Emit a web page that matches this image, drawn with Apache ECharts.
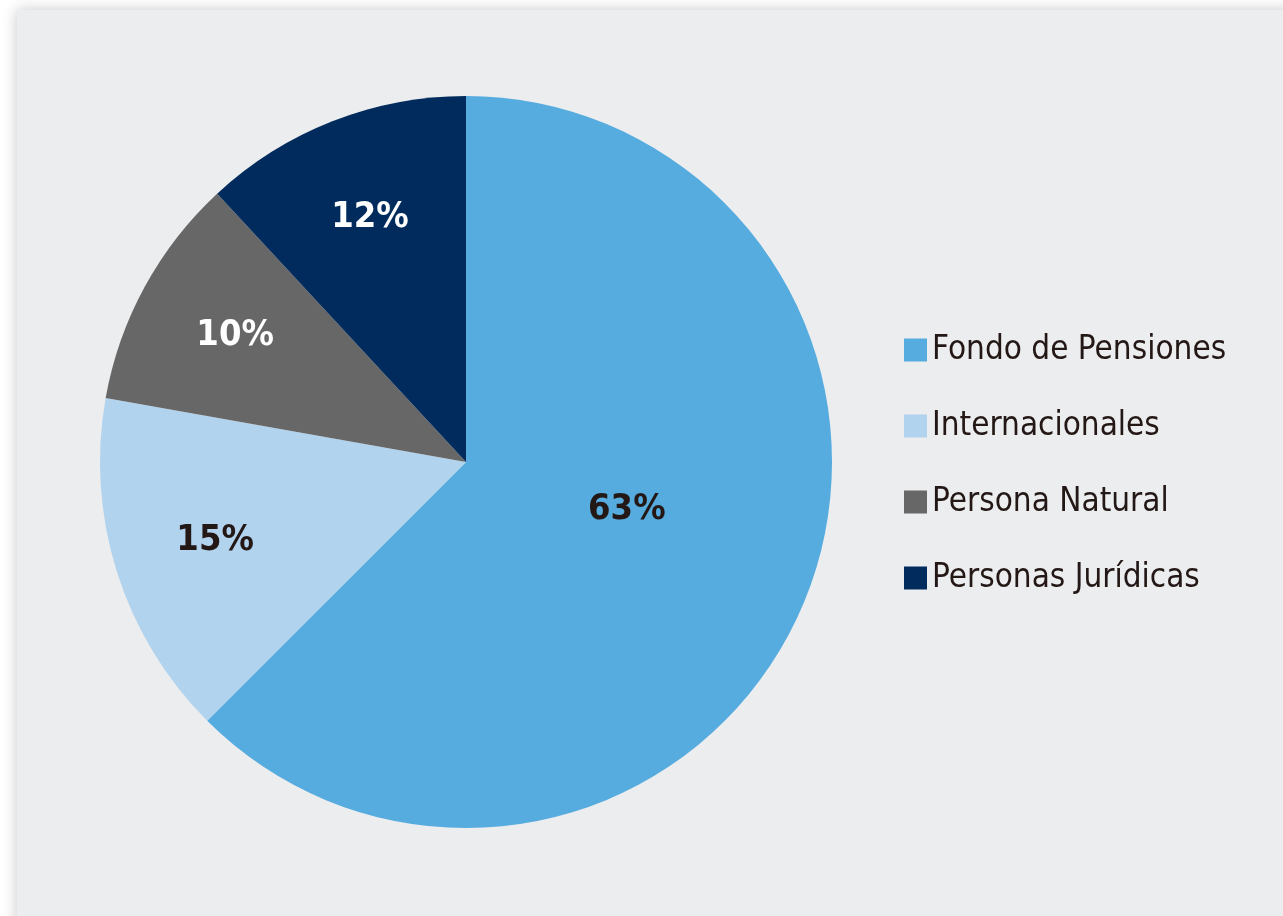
<!DOCTYPE html>
<html>
<head>
<meta charset="utf-8">
<script src="https://cdn.jsdelivr.net/npm/echarts@6/dist/echarts.min.js"></script>
<style>
html,body{margin:0;padding:0;background:#ffffff;}
#chart{width:1283px;height:916px;}
</style>
</head>
<body>
<div id="chart"></div>
<script>
const categories = ['Fondo de Pensiones', 'Internacionales', 'Persona Natural', 'Personas Jurídicas'];
const shares = [62.5, 15.3, 10.3, 11.9];
const colors = ['#56abdf', '#b1d3ee', '#676767', '#002b5c'];
const labelColors = ['#231815', '#231815', '#ffffff', '#ffffff'];

const FONT = '"Liberation Sans Narrow", "DejaVu Sans Condensed", "Roboto", sans-serif';
const chart = echarts.init(document.getElementById('chart'), null, {renderer: 'canvas'});

const pieData = categories.map((c, i) => ({
  name: c,
  value: shares[i],
  itemStyle: {color: colors[i]},
  label: {color: labelColors[i]}
}));

const labelData = categories.map((c, i) => ({
  name: c,
  value: shares[i],
  label: {show: true, color: labelColors[i]}
}));

chart.setOption({
  backgroundColor: '#ffffff',
  animation: false,
  graphic: [{
    type: 'rect',
    left: 17, top: 10,
    shape: {width: 1320, height: 960},
    style: {fill: '#ecedef', shadowBlur: 14, shadowColor: 'rgba(0,0,0,0.22)'},
    z: -10
  }],
  legend: {
    orient: 'vertical',
    left: 899,
    top: 325,
    icon: 'rect',
    itemWidth: 23,
    itemHeight: 23,
    itemGap: 36,
    selectedMode: false,
    data: categories,
    textStyle: {
      fontFamily: FONT,
      fontSize: 33,
      lineHeight: 40,
      color: '#231815'
    }
  },
  series: [
    {
      type: 'pie',
      center: [466, 462],
      radius: [0, 366],
      startAngle: 90,
      clockwise: true,
      silent: true,
      emphasis: {disabled: true},
      itemStyle: {borderWidth: 0},
      label: {
        show: true,
        position: 'inside',
        fontFamily: FONT,
        fontWeight: 'bold',
        fontSize: 36,
        formatter: p => p.dataIndex === 0 ? Math.round(p.percent) + '%' : ''
      },
      labelLayout: p => p.dataIndex === 0 ? {dx: -11, dy: -24} : {},
      labelLine: {show: false},
      data: pieData
    },
    {
      type: 'pie',
      center: [466, 462],
      radius: [154, 366],
      startAngle: 90,
      clockwise: true,
      silent: true,
      emphasis: {disabled: true},
      itemStyle: {color: 'rgba(0,0,0,0)', borderWidth: 0},
      label: {
        show: true,
        position: 'inside',
        fontFamily: FONT,
        fontWeight: 'bold',
        fontSize: 36,
        formatter: p => p.dataIndex === 0 ? '' : Math.round(p.percent) + '%'
      },
      labelLine: {show: false},
      legendHoverLink: false,
      data: labelData
    }
  ]
});
</script>
</body>
</html>
